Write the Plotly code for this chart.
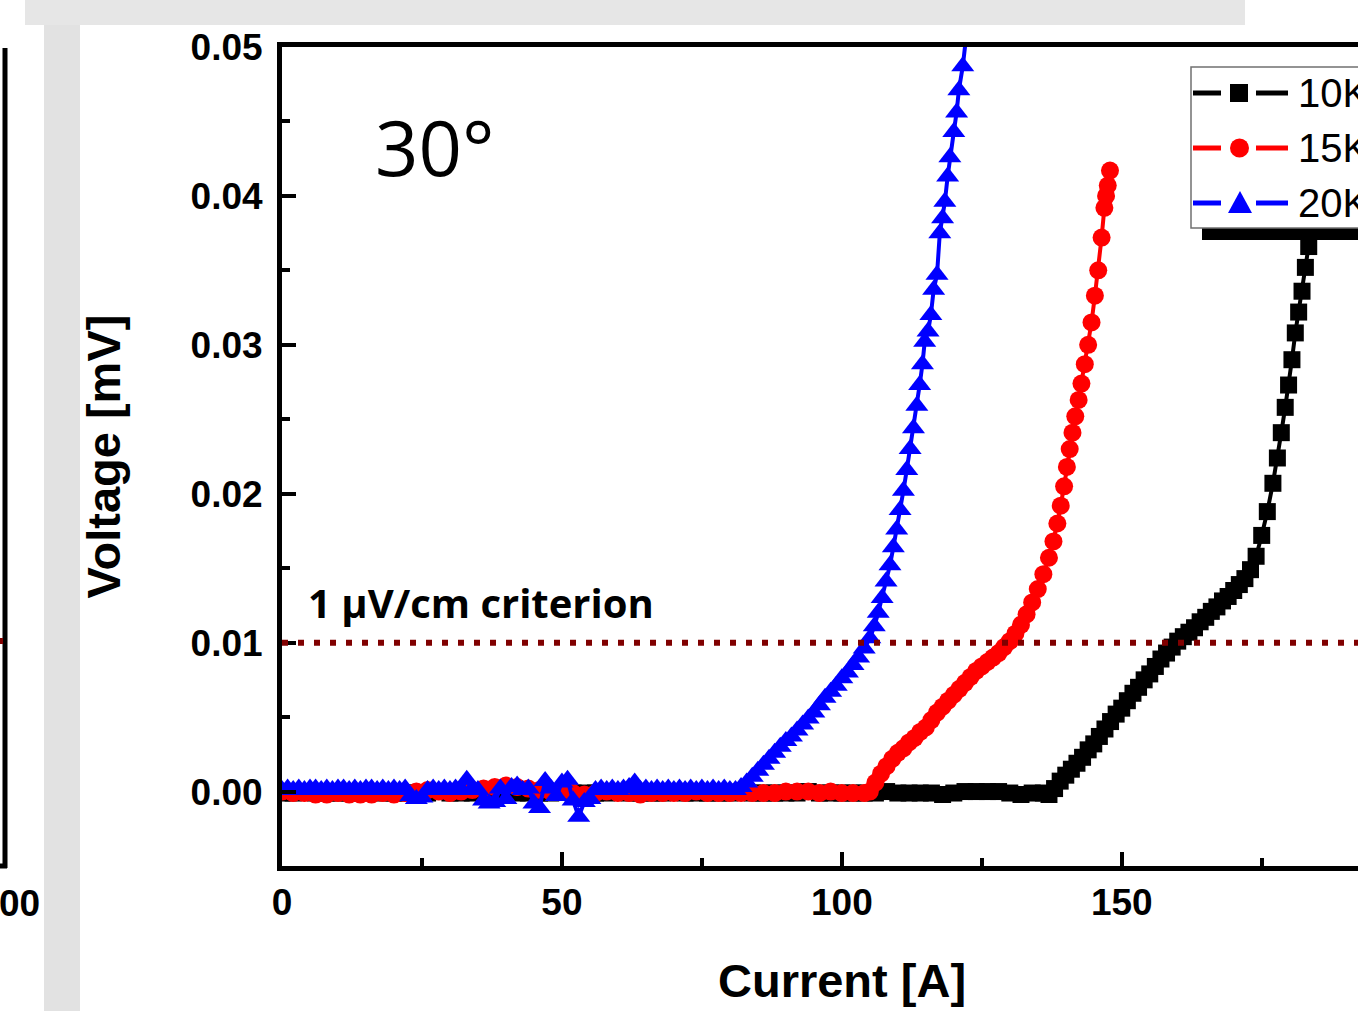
import plotly.graph_objects as go

# ---------------- data ----------------
series_names = ["10K", "15K", "20K"]

current_10K = [0, 2, 4, 6, 8, 10, 12, 14, 16, 18, 20, 22, 24, 26, 28, 30, 32, 34, 36, 38,
               40, 42, 44, 46, 48, 50, 52, 54, 56, 58, 60, 62, 64, 66, 68, 70, 72, 74, 76, 78,
               80, 82, 84, 86, 88, 90, 92, 94, 96, 98, 100, 102, 104, 106, 108, 110, 112, 114,
               116, 118, 120, 122, 124, 126, 128, 130, 132, 134, 136,
               137.0, 138.0, 139.0, 140.0, 141.0, 142.0, 143.0, 144.0, 145.0, 146.0, 147.0,
               148.0, 149.0, 150.0, 151.0, 152.0, 153.0, 154.0, 155.0, 156.0, 157.0, 158.0,
               159.0, 160.0, 161.0, 162.0, 163.0, 164.0, 165.0, 166.0, 167.0, 168.0, 169.0,
               170.0, 171.0, 172.0, 173.0, 174.0, 175.0, 176.0, 177.0, 177.8, 178.5, 179.2,
               179.8, 180.4, 181.0, 181.6, 182.2, 182.8, 183.4, 184.0, 184.6, 185.2, 185.8,
               186.4, 187.0]
voltage_10K = [-0.0001, -0.0001, 0.0000, -0.0001, -0.0001, -0.0001, -0.0001, -0.0001, 0.0000, -0.0001,
               -0.0001, -0.0001, -0.0001, -0.0001, 0.0000, -0.0001, -0.0001, -0.0001, -0.0001, 0.0000,
               -0.0001, -0.0001, -0.0001, -0.0001, -0.0001, 0.0000, -0.0001, -0.0001, -0.0001, -0.0001,
               0.0000, -0.0001, -0.0001, -0.0001, -0.0001, 0.0000, -0.0001, -0.0001, -0.0001, -0.0001,
               -0.0001, 0.0000, -0.0001, -0.0001, -0.0001, -0.0001, -0.0001, 0.0000, -0.0001, -0.0001,
               -0.0001, -0.0001, -0.0001, -0.0001, 0.0000, -0.0001, -0.0001, -0.0001, -0.0001, -0.0002,
               -0.0001, 0.0000, 0.0000, 0.0000, 0.0000, -0.0001, -0.0002, -0.0001, -0.0001,
               -0.0002, 0.0002, 0.0007, 0.0011, 0.0015, 0.0019, 0.0023, 0.0028, 0.0032, 0.0037, 0.0042,
               0.0047, 0.0052, 0.0056, 0.0061, 0.0066, 0.0070, 0.0075, 0.0079, 0.0084, 0.0089, 0.0093,
               0.0097, 0.0101, 0.0104, 0.0107, 0.0110, 0.0114, 0.0117, 0.0121, 0.0124, 0.0128, 0.0131,
               0.0135, 0.0139, 0.0143, 0.0149, 0.0158, 0.0172, 0.0188, 0.0207, 0.0224, 0.0241, 0.0258,
               0.0273, 0.0290, 0.0308, 0.0322, 0.0336, 0.0352, 0.0366, 0.0380, 0.0396, 0.0414, 0.0432,
               0.0452, 0.0472]

current_15K = [0, 2, 4, 6, 8, 10, 12, 14, 16, 18, 20, 22, 24, 26, 28, 30, 32, 34, 36, 38,
               40, 42, 44, 46, 48, 50, 52, 54, 56, 58, 60, 62, 64, 66, 68, 70, 72, 74, 76, 78,
               80, 82, 84, 86, 88, 90, 92, 94, 96, 98, 100, 102, 104,
               105.0, 106.0, 107.0, 108.0, 109.0, 110.0, 111.0, 112.0, 113.0, 114.0, 115.0,
               116.0, 117.0, 118.0, 119.0, 120.0, 121.0, 122.0, 123.0, 124.0, 125.0, 126.0,
               127.0, 128.0, 129.0, 130.0, 131.0, 132.0, 133.0, 134.0, 135.0, 136.0, 137.0,
               137.8, 138.5, 139.1, 139.7, 140.2, 140.7, 141.2, 141.7, 142.3, 142.8, 143.4,
               144.0, 144.6, 145.2, 145.8, 146.4, 146.9, 147.2, 147.5, 147.9]
voltage_15K = [0.0000, -0.0001, -0.0001, -0.0002, -0.0002, -0.0001, -0.0002, -0.0002, -0.0002, -0.0001,
               -0.0002, -0.0001, 0.0000, 0.0001, 0.0000, -0.0001, 0.0000, 0.0001, 0.0002, 0.0003,
               0.0004, 0.0003, 0.0002, 0.0001, 0.0000, 0.0001, -0.0001, -0.0002, -0.0001, 0.0000,
               -0.0001, -0.0001, -0.0002, -0.0001, -0.0001, -0.0001, -0.0001, 0.0000, -0.0001, -0.0001,
               -0.0001, -0.0001, -0.0001, -0.0001, -0.0001, 0.0000, 0.0000, 0.0000, -0.0001, 0.0000,
               -0.0001, -0.0001, -0.0001,
               0.0000, 0.0006, 0.0012, 0.0017, 0.0022, 0.0026, 0.0029, 0.0033, 0.0036, 0.0040, 0.0043,
               0.0048, 0.0053, 0.0057, 0.0061, 0.0065, 0.0069, 0.0073, 0.0077, 0.0081, 0.0084, 0.0087,
               0.0090, 0.0093, 0.0097, 0.0101, 0.0106, 0.0112, 0.0119, 0.0127, 0.0136, 0.0146, 0.0157,
               0.0168, 0.0180, 0.0192, 0.0205, 0.0218, 0.0230, 0.0241, 0.0252, 0.0263, 0.0274, 0.0287,
               0.0300, 0.0315, 0.0333, 0.0350, 0.0372, 0.0392, 0.0400, 0.0407, 0.0417]

current_20K = [0, 1, 2, 3, 4, 5, 6, 7, 8, 9, 10, 11, 12, 13, 14, 15, 16, 17, 18, 19,
               20, 21, 22, 23, 24, 25, 26, 27, 28, 29, 30, 31, 32, 33, 34, 35, 36, 37, 38, 39,
               40, 41, 42, 43, 44, 45, 46, 47, 48, 49, 50, 51, 52, 53, 54, 55, 56, 57, 58, 59,
               60, 61, 62, 63, 64, 65, 66, 67, 68, 69, 70, 71, 72, 73, 74, 75, 76, 77, 78, 79, 80,
               81.0, 82.0, 83.0, 84.0, 85.0, 86.0, 87.0, 88.0, 89.0, 90.0, 91.0, 92.0, 93.0,
               94.0, 95.0, 96.0, 97.0, 98.0, 99.0, 100.0, 101.0, 102.0, 103.0, 104.0, 105.0,
               105.8, 106.5, 107.2, 107.9, 108.6, 109.2, 109.8, 110.4, 111.0, 111.6, 112.2,
               112.8, 113.4, 113.9, 114.4, 114.8, 115.4, 115.9, 116.4, 117.0, 117.5, 118.0,
               118.4, 118.9, 119.3, 120.0, 120.5, 120.9, 121.6, 122.3]
voltage_20K = [0.0001, 0.0002, 0.0001, 0.0002, 0.0001, 0.0002, 0.0002, 0.0001, 0.0002, 0.0001,
               0.0002, 0.0002, 0.0001, 0.0002, 0.0001, 0.0002, 0.0002, 0.0001, 0.0002, 0.0001,
               0.0002, 0.0001, 0.0002, -0.0003, -0.0005, -0.0004, 0.0001, 0.0002, 0.0001, 0.0002,
               0.0001, 0.0002, 0.0001, 0.0008, 0.0002, 0.0001, -0.0006, -0.0008, -0.0007, 0.0002,
               -0.0005, 0.0003, 0.0004, 0.0001, 0.0002, -0.0008, -0.0011, 0.0007, 0.0002, -0.0003,
               0.0006, 0.0008, -0.0006, -0.0017, -0.0007, -0.0005, 0.0001, 0.0002, 0.0001, 0.0002,
               0.0001, 0.0002, 0.0003, 0.0006, 0.0001, 0.0002, 0.0001, 0.0002, 0.0001, 0.0002,
               0.0001, 0.0002, 0.0001, 0.0002, 0.0001, 0.0002, 0.0001, 0.0002, 0.0001, 0.0002, 0.0001,
               0.0001, 0.0003, 0.0006, 0.0010, 0.0014, 0.0018, 0.0022, 0.0026, 0.0030, 0.0034, 0.0037,
               0.0041, 0.0045, 0.0049, 0.0053, 0.0058, 0.0063, 0.0067, 0.0071, 0.0076, 0.0080, 0.0085,
               0.0090, 0.0096, 0.0103, 0.0111, 0.0120, 0.0130, 0.0141, 0.0152, 0.0164, 0.0176, 0.0189,
               0.0202, 0.0216, 0.0230, 0.0244, 0.0259, 0.0273, 0.0287, 0.0302, 0.0309, 0.0320, 0.0337,
               0.0347, 0.0375, 0.0385, 0.0396, 0.0413, 0.0426, 0.0443, 0.0456, 0.0471, 0.0487, 0.0510]

criterion_voltage = 0.01
x_ticks = [0, 50, 100, 150]
y_ticks = [0.00, 0.01, 0.02, 0.03, 0.04, 0.05]

# ---------------- styling ----------------
W, H = 1358, 1011
L, R, T, B = 282, 0, 47, 145
PW, PH = W - L - R, H - T - B
X_RANGE = [0, 192.2]
X_FULL_SPAN = [0, 200]  # full axis of the original (cropped) panel
Y_RANGE = [-0.005, 0.05]
AXFONT = "Liberation Sans, Arial, sans-serif"
TXTFONT = "Open Sans, Noto Sans, sans-serif"


def px(xp):
    return (xp - L) / PW


def py(yp):
    return (H - B - yp) / PH


fig = go.Figure()
styles = [
    dict(color="#000000", symbol="square", size=17),
    dict(color="#ff0000", symbol="circle", size=18),
    dict(color="#0000ff", symbol="triangle-up", size=20),
]
data = [(current_10K, voltage_10K), (current_15K, voltage_15K), (current_20K, voltage_20K)]
for name, (xs, ys), st in zip(series_names, data, styles):
    fig.add_trace(go.Scatter(
        x=xs, y=ys, name=name, mode="lines+markers", showlegend=False,
        line=dict(color=st["color"], width=4),
        marker=dict(color=st["color"], symbol=st["symbol"], size=st["size"], line=dict(width=0)),
    ))

shapes = []
# criterion line
shapes.append(dict(type="line", xref="x", yref="y", x0=X_RANGE[0], x1=X_RANGE[1],
                   y0=criterion_voltage, y1=criterion_voltage, layer="above",
                   line=dict(color="#800000", width=6, dash="6px,10px")))
# background decorations of the cropped screenshot
shapes.append(dict(type="rect", xref="paper", yref="paper", x0=px(25), x1=px(1245), y0=py(25), y1=py(0),
                   fillcolor="#e6e6e6", line=dict(width=0), layer="below"))
shapes.append(dict(type="rect", xref="paper", yref="paper", x0=px(44), x1=px(80), y0=py(1011), y1=py(25),
                   fillcolor="#e2e2e2", line=dict(width=0), layer="below"))
shapes.append(dict(type="line", xref="paper", yref="paper", x0=px(5), x1=px(5), y0=py(868), y1=py(48),
                   line=dict(color="black", width=5)))
shapes.append(dict(type="line", xref="paper", yref="paper", x0=px(0), x1=px(7), y0=py(866), y1=py(866),
                   line=dict(color="black", width=5)))
shapes.append(dict(type="line", xref="paper", yref="paper", x0=px(0), x1=px(3), y0=py(641), y1=py(641),
                   line=dict(color="#800000", width=6)))

# legend (Origin style, with shadow, cut by the right edge like the reference)
shapes.append(dict(type="rect", xref="paper", yref="paper", x0=px(1202), x1=px(1420), y0=py(240), y1=py(78),
                   fillcolor="black", line=dict(width=0), layer="above"))
shapes.append(dict(type="rect", xref="paper", yref="paper", x0=px(1191), x1=px(1410), y0=py(228), y1=py(67),
                   fillcolor="white", line=dict(color="#707070", width=1.5), layer="above"))
row_y = [93, 148, 203]
annotations = []
for name, st, cy in zip(series_names, styles, row_y):
    for xa, xb in [(1193, 1221), (1256, 1288)]:
        shapes.append(dict(type="line", xref="paper", yref="paper", x0=px(xa), x1=px(xb),
                           y0=py(cy), y1=py(cy), layer="above",
                           line=dict(color=st["color"], width=5)))
    if st["symbol"] == "square":
        shapes.append(dict(type="rect", xref="paper", yref="paper", x0=px(1230), x1=px(1248),
                           y0=py(cy + 9), y1=py(cy - 9), fillcolor=st["color"], line=dict(width=0),
                           layer="above"))
    elif st["symbol"] == "circle":
        shapes.append(dict(type="circle", xref="paper", yref="paper", x0=px(1230), x1=px(1249),
                           y0=py(cy + 9.5), y1=py(cy - 9.5), fillcolor=st["color"], line=dict(width=0),
                           layer="above"))
    else:
        path = "M {:.5f} {:.5f} L {:.5f} {:.5f} L {:.5f} {:.5f} Z".format(
            px(1228), py(cy + 10), px(1252), py(cy + 10), px(1240), py(cy - 12))
        shapes.append(dict(type="path", xref="paper", yref="paper", path=path,
                           fillcolor=st["color"], line=dict(width=0), layer="above"))
    annotations.append(dict(text=name, xref="paper", yref="paper", x=px(1296), y=py(cy),
                            xanchor="left", yanchor="middle", showarrow=False,
                            font=dict(family=AXFONT, size=40, color="black")))

annotations += [
    dict(text="30°", xref="x", yref="y", x=27.3, y=0.0433, showarrow=False,
         font=dict(family=TXTFONT, size=76, color="black")),
    dict(text="1 μV/cm criterion", xref="x", yref="y", x=4.3, y=0.0127, xanchor="left",
         showarrow=False, font=dict(family=TXTFONT, size=40, color="black", weight="bold")),
    dict(text="00", xref="paper", yref="paper", x=px(-3), y=py(903), xanchor="left", yanchor="middle",
         showarrow=False, font=dict(family=AXFONT, size=37, color="black", weight="bold")),
    # x-axis title, centred on the full (cropped) axis span of the original panel
    dict(text="Current [A]", xref="x", yref="paper",
         x=(X_FULL_SPAN[0] + X_FULL_SPAN[1]) / 2, y=py(980), xanchor="center", yanchor="middle",
         showarrow=False, font=dict(family=AXFONT, size=47, color="black", weight="bold")),
]

axis_common = dict(
    showline=True, linecolor="black", linewidth=5,
    ticks="inside", ticklen=14, tickwidth=4, tickcolor="black",
    showgrid=False, zeroline=False,
    tickfont=dict(family=AXFONT, size=37, color="black", weight="bold"),
)

fig.update_layout(
    width=W, height=H,
    margin=dict(l=L, r=R, t=T, b=B, pad=0),
    paper_bgcolor="white", plot_bgcolor="rgba(0,0,0,0)",
    showlegend=False,
    xaxis=dict(range=X_RANGE, tickvals=x_ticks, mirror=True,
               minor=dict(dtick=25, ticks="inside", ticklen=8, tickwidth=4, tickcolor="black"),
               ticklabelstandoff=0,
               **axis_common),
    yaxis=dict(range=Y_RANGE, tickvals=y_ticks, tickformat=".2f", mirror=False,
               minor=dict(dtick=0.005, ticks="inside", ticklen=8, tickwidth=4, tickcolor="black"),
               ticklabelstandoff=7,
               title=dict(text="Voltage [mV]", standoff=57,
                          font=dict(family=AXFONT, size=47, color="black", weight="bold")),
               **axis_common),
    shapes=shapes,
    annotations=annotations,
)

fig.write_html("out.html", config={"displayModeBar": False},
               post_script="document.body.style.margin='0px';")
